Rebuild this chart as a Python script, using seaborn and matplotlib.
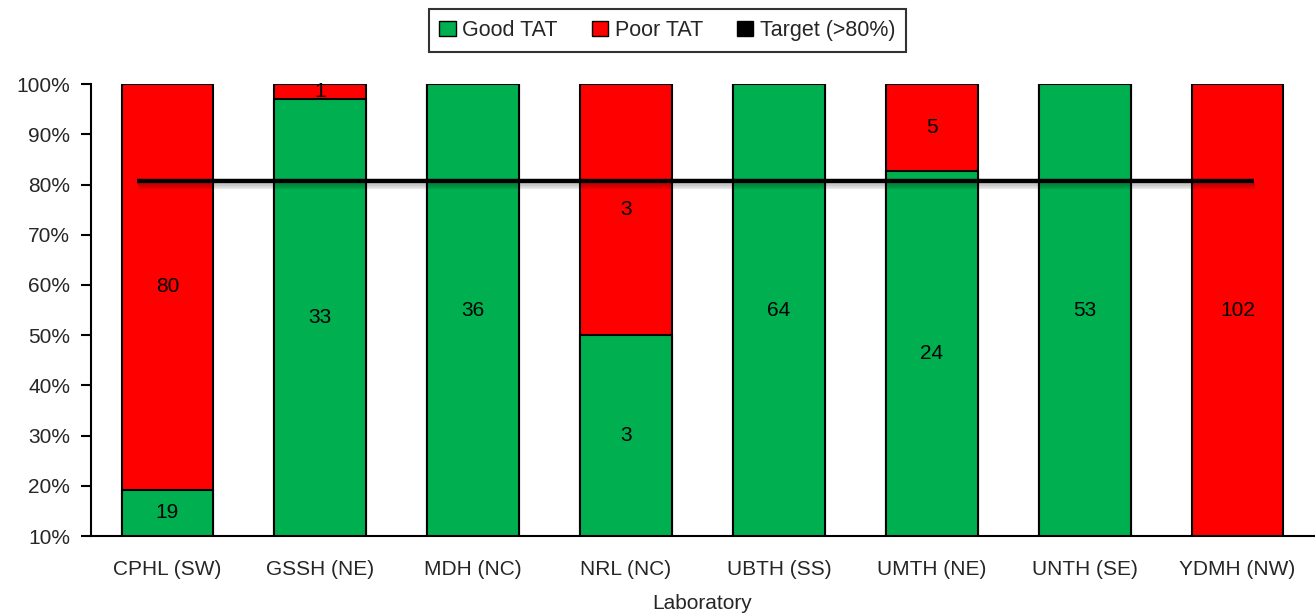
import pandas as pd
import seaborn as sns
import matplotlib.pyplot as plt
import matplotlib.patheffects as pe
from matplotlib.patches import Patch

# data
labs = ["CPHL (SW)", "GSSH (NE)", "MDH (NC)", "NRL (NC)",
        "UBTH (SS)", "UMTH (NE)", "UNTH (SE)", "YDMH (NW)"]
good = [19, 33, 36, 3, 64, 24, 53, 0]
poor = [80, 1, 0, 3, 0, 5, 0, 102]
target = 0.807
target_x = [-0.2, 7.11]

GREEN = "#00b050"
RED = "#ff0000"
FS = 15

df = pd.DataFrame({"lab": labs, "good": good, "poor": poor})
df["total"] = df["good"] + df["poor"]
df["good_pct"] = df["good"] / df["total"]
df["all_pct"] = 1.0

sns.set_style("white")
plt.rcParams["font.family"] = ["Liberation Sans", "DejaVu Sans"]

fig = plt.figure(figsize=(13.15, 6.14), dpi=100)
ax = fig.add_axes([0.0692, 0.127, 0.93, 0.736])

sns.barplot(data=df, x="lab", y="all_pct", color=RED, width=0.6,
            edgecolor="black", linewidth=1.5, saturation=1, ax=ax)
sns.barplot(data=df, x="lab", y="good_pct", color=GREEN, width=0.6,
            edgecolor="black", linewidth=1.5, saturation=1, ax=ax)

ymin, ymax = 0.1, 1.0
ax.set_ylim(ymin, ymax)
ax.set_xlim(-0.5, len(labs) - 0.5)

# value labels at the middle of the visible part of each segment
for i, row in df.iterrows():
    g = row["good_pct"]
    if row["good"] > 0:
        lo, hi = ymin, max(g, ymin)
        ax.text(i, (lo + hi) / 2, str(row["good"]), ha="center", va="center",
                fontsize=FS, color="black")
    if row["poor"] > 0:
        lo, hi = max(g, ymin), ymax
        ax.text(i, (lo + hi) / 2, str(row["poor"]), ha="center", va="center",
                fontsize=FS, color="black")

# target line with a soft shadow underneath
shadow = [pe.SimpleLineShadow(offset=(0.5, -k), alpha=0.07, shadow_color="black")
          for k in (1.5, 2.5, 3.5, 4.5)]
ax.plot(target_x, [target, target], color="black", lw=3.2, solid_capstyle="butt",
        path_effects=shadow + [pe.Normal()])

ax.set_yticks([0.1 * k for k in range(1, 11)])
ax.set_yticklabels([f"{10 * k}%" for k in range(1, 11)])
ax.set_xticks(range(len(labs)))
ax.set_xticklabels(labs)
ax.set_xticks([i - 0.5 for i in range(len(labs) + 1)], minor=True)
ax.tick_params(axis="x", which="major", length=0, labelsize=FS, pad=17)
ax.tick_params(axis="x", which="minor", length=7, width=1.5, direction="out", color="black")
ax.tick_params(axis="y", length=7, width=1.5, direction="out", color="black",
               labelsize=FS, left=True, pad=8)
ax.set_xlabel("Laboratory", fontsize=FS, labelpad=11)
ax.set_ylabel("")

sns.despine(ax=ax, top=True, right=True)
for s in ["left", "bottom"]:
    ax.spines[s].set_color("black")
    ax.spines[s].set_linewidth(1.5)

handles = [Patch(facecolor=GREEN, edgecolor="black", label="Good TAT"),
           Patch(facecolor=RED, edgecolor="black", label="Poor TAT"),
           Patch(facecolor="black", edgecolor="black", label="Target (>80%)")]
leg = fig.legend(handles=handles, loc="upper center", bbox_to_anchor=(0.5075, 0.985),
                 ncol=3, fontsize=FS + 0.5, frameon=True, fancybox=False,
                 handlelength=0.75, handleheight=0.75, handletextpad=0.3,
                 columnspacing=1.6, borderpad=0.5, borderaxespad=0)
leg.get_frame().set_edgecolor("black")
leg.get_frame().set_linewidth(1.5)

fig.savefig("out.png", dpi=100)
